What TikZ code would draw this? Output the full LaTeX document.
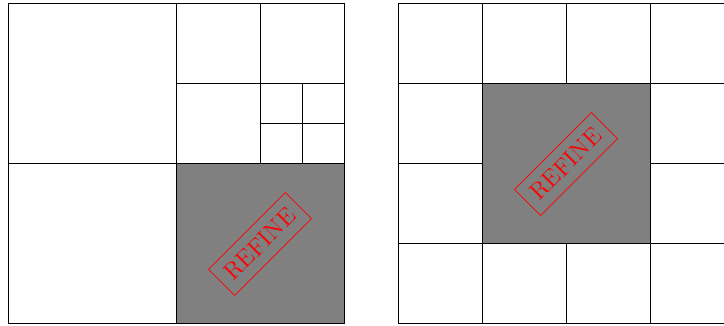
\documentclass[tikz,border=0pt]{standalone}
\tikzset{
  gridline/.style={line width=0.5pt, black},
  refinecell/.style={fill=gray},
  refinelabel/.style={draw=red, text=red, rotate=45, font=\large, inner xsep=4.5pt, inner ysep=5pt, line width=0.4pt}
}
\begin{document}
\begin{tikzpicture}[x=0.5pt,y=-0.5pt]
\useasboundingbox (0,0) rectangle (724,326);
% left: quadtree
\fill[refinecell] (176,164) rectangle (344,324);
\draw[gridline] (8,4) rectangle (344,324);
\draw[gridline] (176,4) -- (176,324);
\draw[gridline] (8,164) -- (344,164);
\draw[gridline] (260,4) -- (260,164);
\draw[gridline] (176,84) -- (344,84);
\draw[gridline] (302,84) -- (302,164);
\draw[gridline] (260,124) -- (344,124);
\node[refinelabel] (refL) at (260,244) {REFINE};
% right: uniform grid
\draw[gridline] (398,4) rectangle (734,324);
\foreach \xx in {482,566,650} \draw[gridline] (\xx,4) -- (\xx,324);
\foreach \yy in {84,164,244} \draw[gridline] (398,\yy) -- (734,\yy);
\fill[refinecell, draw=black, line width=0.5pt] (482,84) rectangle (650,244);
\node[refinelabel] (refR) at (566,164) {REFINE};
\end{tikzpicture}
\end{document}
